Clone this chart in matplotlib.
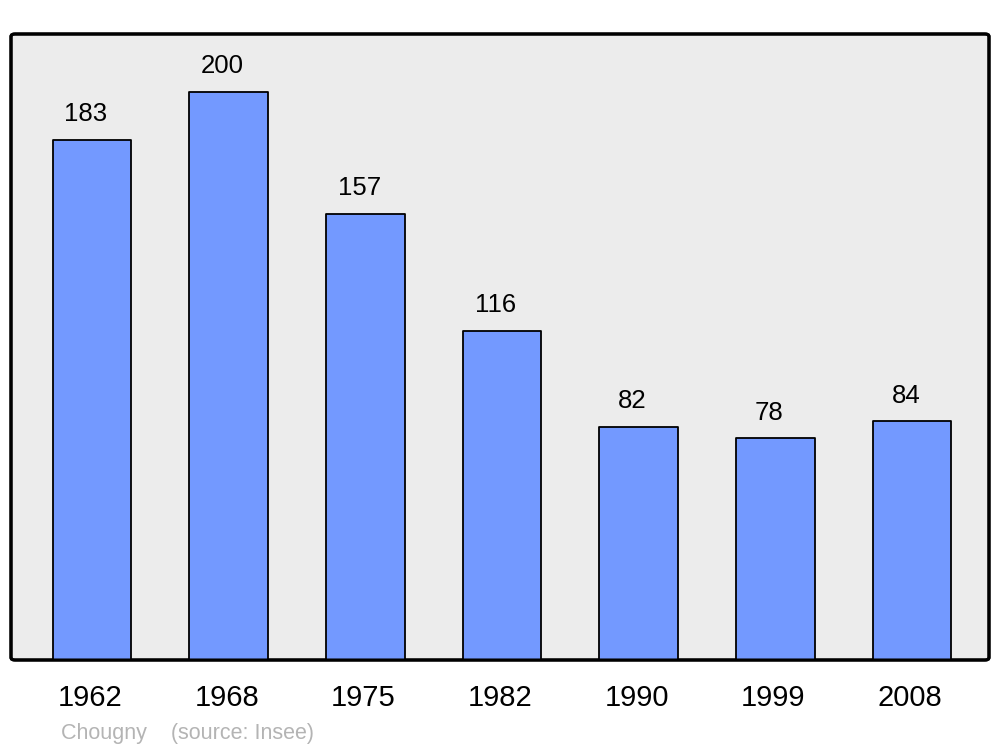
import matplotlib.pyplot as plt
import matplotlib.transforms as mtransforms
from matplotlib.patches import FancyBboxPatch

years = ["1962", "1968", "1975", "1982", "1990", "1999", "2008"]
population = [183, 200, 157, 116, 82, 78, 84]

plt.rcParams['font.family'] = ['Liberation Sans', 'DejaVu Sans']

fig = plt.figure(figsize=(10, 7.47), dpi=100)
ax = fig.add_axes([0.011, 1 - 660 / 747, 0.978, 626 / 747])
ax.set_facecolor('none')

x = list(range(len(years)))
bars = ax.bar(x, population, width=0.575, color="#7399ff", edgecolor="black",
              linewidth=1.3, zorder=3)
for b in bars:
    b.set_joinstyle('round')

for xi, v in zip(x, population):
    ax.annotate(str(v), (xi, v), xytext=(-4.5, 10), textcoords='offset points',
                ha='center', va='bottom', fontsize=18.5)

ax.set_xlim(-0.593, 6.563)
ax.set_ylim(0, 220.4)
ax.set_xticks(x)
ax.set_xticklabels(years, fontsize=21)
ax.tick_params(axis='x', length=0, pad=17)
shift = mtransforms.ScaledTranslation(-2 / 100, 0, fig.dpi_scale_trans)
for lbl in ax.get_xticklabels():
    lbl.set_transform(lbl.get_transform() + shift)
ax.set_yticks([])
for s in ax.spines.values():
    s.set_visible(False)

frame = FancyBboxPatch((0, 0), 1, 1, boxstyle="round,pad=0,rounding_size=0.004",
                       transform=ax.transAxes, facecolor="#ececec",
                       edgecolor="black", linewidth=2.2, zorder=0, clip_on=False)
ax.add_patch(frame)
border = FancyBboxPatch((0, 0), 1, 1, boxstyle="round,pad=0,rounding_size=0.004",
                        transform=ax.transAxes, facecolor="none",
                        edgecolor="black", linewidth=2.2, zorder=5, clip_on=False)
ax.add_patch(border)

fig.text(0.061, 1 - 733 / 747, "Chougny    (source: Insee)", color="#b4b4b4",
         fontsize=15.5, ha='left', va='center')

fig.savefig("out.png", dpi=100)
